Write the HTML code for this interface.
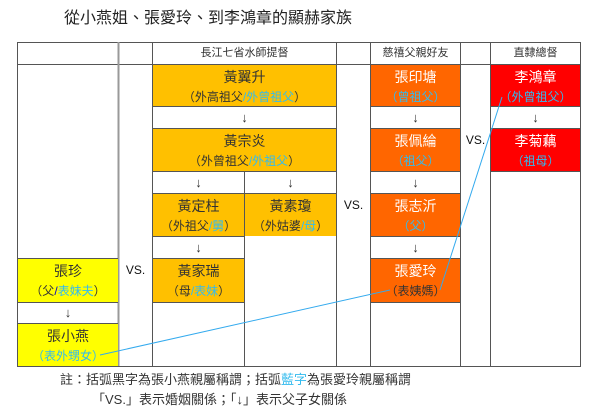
<!DOCTYPE html>
<html><head><meta charset="utf-8"><style>
body{margin:0;width:600px;height:419px;background:#fff;position:relative;overflow:hidden;font-family:"Liberation Sans","Noto Sans CJK TC",sans-serif;}
.c{position:absolute;box-sizing:border-box;text-align:center;color:#333;white-space:nowrap;}
.n{font-size:14px;line-height:20px;padding-top:2px}
.p{font-size:12px;line-height:20px}
.b{color:#33bbee}
.w{color:#fff}
</style></head><body>
<div class="c" style="left:64px;top:8px;width:300px;font-size:16px;line-height:22px;text-align:left;color:#222">從小燕姐、張愛玲、到李鴻章的顯赫家族</div>

<svg style="position:absolute;left:0;top:0" width="600" height="419">
<g stroke="#555" stroke-width="1" fill="none">
<rect x="17.5" y="42.5" width="563" height="324"/>
<line x1="17" y1="64.5" x2="580" y2="64.5"/>
<line x1="118.5" y1="42" x2="118.5" y2="366" stroke="#999" stroke-width="2"/>
<line x1="152.5" y1="42" x2="152.5" y2="366"/>
<line x1="336.5" y1="42" x2="336.5" y2="366"/>
<line x1="370.5" y1="42" x2="370.5" y2="366"/>
<line x1="460.5" y1="42" x2="460.5" y2="366"/>
<line x1="490.5" y1="42" x2="490.5" y2="366"/>
<line x1="244.5" y1="171" x2="244.5" y2="366"/>
<line x1="152" y1="106.5" x2="336" y2="106.5"/>
<line x1="152" y1="128.5" x2="336" y2="128.5"/>
<line x1="152" y1="171.5" x2="336" y2="171.5"/>
<line x1="152" y1="193.5" x2="336" y2="193.5"/>
<line x1="152" y1="236.5" x2="244" y2="236.5"/>
<line x1="152" y1="258.5" x2="244" y2="258.5"/>
<line x1="152" y1="302.5" x2="244" y2="302.5"/>
<line x1="17" y1="258.5" x2="118" y2="258.5"/>
<line x1="17" y1="302.5" x2="118" y2="302.5"/>
<line x1="17" y1="323.5" x2="118" y2="323.5"/>
<line x1="370" y1="106.5" x2="460" y2="106.5"/>
<line x1="370" y1="128.5" x2="460" y2="128.5"/>
<line x1="370" y1="171.5" x2="460" y2="171.5"/>
<line x1="370" y1="193.5" x2="460" y2="193.5"/>
<line x1="370" y1="236.5" x2="460" y2="236.5"/>
<line x1="370" y1="258.5" x2="460" y2="258.5"/>
<line x1="370" y1="302.5" x2="460" y2="302.5"/>
<line x1="490" y1="106.5" x2="580" y2="106.5"/>
<line x1="490" y1="128.5" x2="580" y2="128.5"/>
<line x1="490" y1="171.5" x2="580" y2="171.5"/>
</g>
</svg>

<div class="c" style="left:153px;top:43px;width:183px;line-height:21px;font-size:11px">長江七省水師提督</div>
<div class="c" style="left:371px;top:43px;width:89px;line-height:21px;font-size:11px">慈禧父親好友</div>
<div class="c" style="left:491px;top:43px;width:89px;line-height:21px;font-size:11px">直隸總督</div>

<div class="c" style="left:153px;top:65px;width:183px;height:41px;background:#FFC000"><div class="n">黃翼升</div><div class="p">（外高祖父<span class="b">/外曾祖父</span>）</div></div>
<div class="c" style="left:153px;top:107px;width:183px;line-height:21px;font-size:13px">↓</div>
<div class="c" style="left:153px;top:129px;width:183px;height:42px;background:#FFC000"><div class="n">黃宗炎</div><div class="p">（外曾祖父<span class="b">/外祖父</span>）</div></div>
<div class="c" style="left:153px;top:172px;width:91px;line-height:21px;font-size:13px">↓</div>
<div class="c" style="left:245px;top:172px;width:91px;line-height:21px;font-size:13px">↓</div>
<div class="c" style="left:153px;top:194px;width:91px;height:42px;background:#FFC000"><div class="n">黃定柱</div><div class="p">（外祖父<span class="b">/舅</span>）</div></div>
<div class="c" style="left:245px;top:194px;width:91px;height:42px;background:#FFC000"><div class="n">黃素瓊</div><div class="p">（外姑婆<span class="b">/母</span>）</div></div>
<div class="c" style="left:337px;top:194px;width:33px;line-height:22px;font-size:12px;color:#111">VS.</div>
<div class="c" style="left:153px;top:237px;width:91px;line-height:21px;font-size:13px">↓</div>
<div class="c" style="left:153px;top:259px;width:91px;height:43px;background:#FFC000"><div class="n">黃家瑞</div><div class="p">（母<span class="b">/表妹</span>）</div></div>

<div class="c" style="left:18px;top:259px;width:100px;height:43px;background:#FFFF00"><div class="n">張珍</div><div class="p">（父<span style="color:#0000cc">/</span><span class="b">表妹夫</span>）</div></div>
<div class="c" style="left:119px;top:259px;width:33px;line-height:22px;font-size:12px;color:#111">VS.</div>
<div class="c" style="left:18px;top:303px;width:100px;line-height:20px;font-size:13px">↓</div>
<div class="c" style="left:18px;top:324px;width:100px;height:42px;background:#FFFF00"><div class="n">張小燕</div><div class="p b">（表外甥女）</div></div>

<div class="c w" style="left:371px;top:65px;width:89px;height:41px;background:#FF6600"><div class="n">張印塘</div><div class="p b">（曾祖父）</div></div>
<div class="c" style="left:371px;top:107px;width:89px;line-height:21px;font-size:13px">↓</div>
<div class="c w" style="left:371px;top:129px;width:89px;height:42px;background:#FF6600"><div class="n">張佩綸</div><div class="p b">（祖父）</div></div>
<div class="c" style="left:371px;top:172px;width:89px;line-height:21px;font-size:13px">↓</div>
<div class="c w" style="left:371px;top:194px;width:89px;height:42px;background:#FF6600"><div class="n">張志沂</div><div class="p b">（父）</div></div>
<div class="c" style="left:371px;top:237px;width:89px;line-height:21px;font-size:13px">↓</div>
<div class="c w" style="left:371px;top:259px;width:89px;height:43px;background:#FF6600"><div class="n">張愛玲</div><div class="p" style="color:#333">（表姨媽）</div></div>
<div class="c" style="left:461px;top:129px;width:29px;line-height:22px;font-size:12px;color:#111">VS.</div>

<div class="c w" style="left:491px;top:65px;width:89px;height:41px;background:#FF0000"><div class="n">李鴻章</div><div class="p b">（外曾祖父）</div></div>
<div class="c" style="left:491px;top:107px;width:89px;line-height:21px;font-size:13px">↓</div>
<div class="c w" style="left:491px;top:129px;width:89px;height:42px;background:#FF0000"><div class="n">李菊藕</div><div class="p b">（祖母）</div></div>

<svg style="position:absolute;left:0;top:0" width="600" height="419">
<polyline points="100,355 390,290" stroke="#33aaee" fill="none" stroke-width="1"/>
<polyline points="440,290 502,97" stroke="#33aaee" fill="none" stroke-width="1"/>
</svg>

<div class="c" style="left:60px;top:370px;width:400px;text-align:left;font-size:13px;line-height:20px">註：括弧黑字為張小燕親屬稱謂；括弧<span class="b">藍字</span>為張愛玲親屬稱謂</div>
<div class="c" style="left:92px;top:390px;width:400px;text-align:left;font-size:13px;line-height:20px">「VS.」表示婚姻關係；「↓」表示父子女關係</div>
</body></html>
